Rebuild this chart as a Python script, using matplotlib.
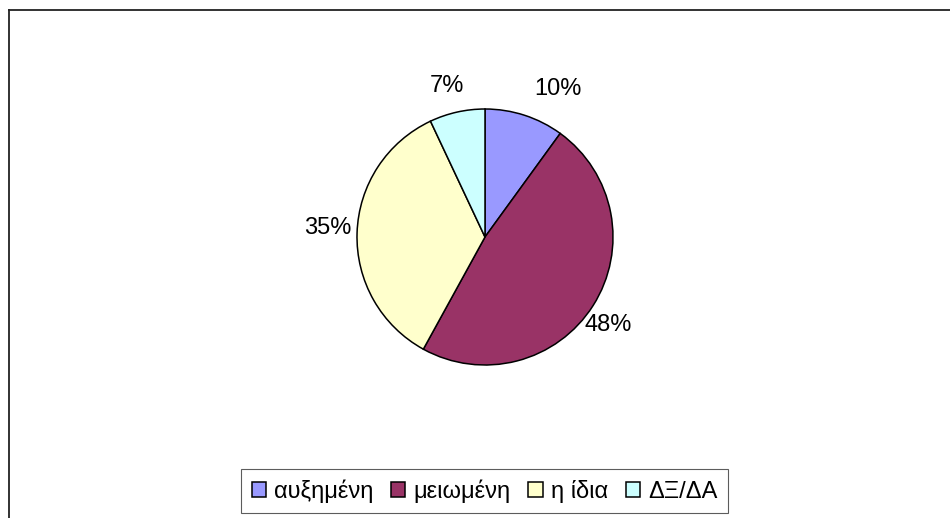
import matplotlib
matplotlib.use('Agg')
import matplotlib.pyplot as plt
from matplotlib.lines import Line2D

plt.rcParams['font.family'] = ['Liberation Sans', 'DejaVu Sans']

# data
categories = ['αυξημένη', 'μειωμένη', 'η ίδια', 'ΔΞ/ΔΑ']
shares = [10, 48, 35, 7]
colors = ['#9999FF', '#993366', '#FFFFCC', '#CCFFFF']
# label centres in pie units (radius = 1), Excel-like outside placement
label_pos = [(0.57, 1.16), (0.96, -0.69), (-1.23, 0.07), (-0.30, 1.18)]

W, H = 950, 518
fig = plt.figure(figsize=(W / 100, H / 100), dpi=100)

# pie axes: centre at (485, 237) px, radius 128 px
r_px = 128
cx, cy = 485, 237
half = 1.5 * r_px
ax = fig.add_axes([(cx - half) / W, (H - cy - half) / H, 2 * half / W, 2 * half / H])

wedges, texts = ax.pie(shares, colors=colors, startangle=90, counterclock=False,
                       wedgeprops=dict(edgecolor='black', linewidth=1.1))
ax.set_xlim(-1.5, 1.5)
ax.set_ylim(-1.5, 1.5)

for val, (lx, ly) in zip(shares, label_pos):
    ax.text(lx, ly, f'{val}%', ha='center', va='center', fontsize=17)

leg = fig.legend(wedges, categories, loc='center', ncol=4,
                 bbox_to_anchor=(484.5 / W, (H - 491) / H),
                 fontsize=17, frameon=True, fancybox=False,
                 handlelength=0.6, handleheight=0.6, handletextpad=0.35,
                 columnspacing=0.75, borderpad=0.45, borderaxespad=0)
leg.get_frame().set_edgecolor('#333333')
leg.get_frame().set_linewidth(0.8)

# outer chart frame (cropped at right and bottom)
fig.add_artist(Line2D([8.5 / W, 8.5 / W], [0, 1 - 9.5 / H], transform=fig.transFigure,
                      color='#222222', linewidth=1.3))
fig.add_artist(Line2D([8.5 / W, 1], [1 - 9.5 / H, 1 - 9.5 / H], transform=fig.transFigure,
                      color='#222222', linewidth=1.3))

fig.savefig('out.png', dpi=100, facecolor='white')
